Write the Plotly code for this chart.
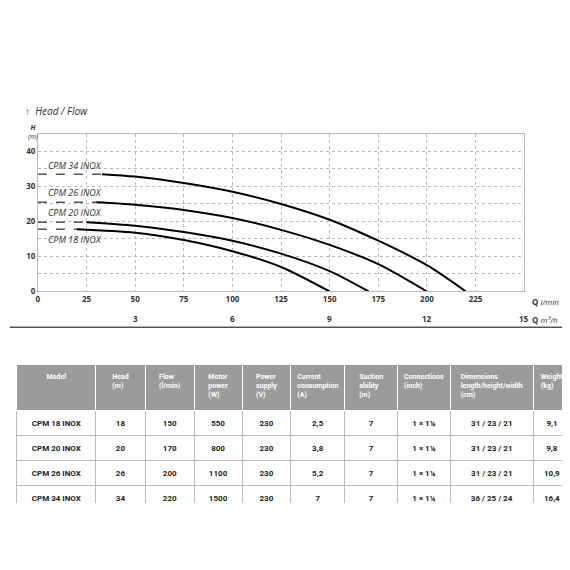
import plotly.graph_objects as go

# Kennlinien (Q in l/min, H in m)
q18 = [20, 50, 75, 100, 125, 150]
h18 = [17.8, 16.8, 14.7, 11.5, 7, 0]
q20 = [25, 50, 75, 100, 125, 150, 170]
h20 = [19.8, 18.8, 17, 14.5, 10.8, 5.8, 0]
q26 = [30, 50, 75, 100, 125, 150, 175, 200]
h26 = [25.5, 24.8, 23.3, 21, 17.6, 13.3, 7.8, 0]
q34 = [33, 50, 75, 100, 125, 150, 175, 200, 220]
h34 = [33.5, 32.8, 31, 28.5, 25, 20.5, 14.5, 7.5, 0]
curve_names = ["CPM 18 INOX", "CPM 20 INOX", "CPM 26 INOX", "CPM 34 INOX"]

x_ticks = [0, 25, 50, 75, 100, 125, 150, 175, 200, 225]
m3h_ticks = [3, 6, 9, 12, 15]

# Tabelle
header = ["Model", "Head<br>(m)", "Flow<br>(l/min)", "Motor<br>power<br>(W)", "Power<br>supply<br>(V)",
          "Current<br>consumption<br>(A)", "Suction<br>ability<br>(m)", "Connections<br>(inch)",
          "Dimensions<br>length/height/width<br>(cm)", "Weight<br>(kg)"]
models = ["CPM 18 INOX", "CPM 20 INOX", "CPM 26 INOX", "CPM 34 INOX"]
heads = ["18", "20", "26", "34"]
flows = ["150", "170", "200", "220"]
motor_power = ["550", "800", "1100", "1500"]
supply = ["230", "230", "230", "230"]
current = ["2,5", "3,8", "5,2", "7"]
suction = ["7", "7", "7", "7"]
connections = ["1 × 1¼"] * 4
dimensions = ["31 / 23 / 21", "31 / 23 / 21", "31 / 23 / 21", "36 / 25 / 24"]
weights = ["9,1", "9,8", "10,9", "16,4"]

fig = go.Figure()

for q, h, name in zip([q18, q20, q26, q34], [h18, h20, h26, h34], curve_names):
    fig.add_trace(go.Scatter(x=q, y=h, mode="lines",
                             line=dict(color="black", width=2, shape="spline", smoothing=0.8),
                             showlegend=False, hoverinfo="skip"))
    fig.add_trace(go.Scatter(x=[0, q[0]], y=[h[0], h[0]], mode="lines",
                             line=dict(color="black", width=1, dash="dash"), showlegend=False, hoverinfo="skip"))

# Beschriftungen der Kurven
label_pos = {"CPM 34 INOX": 36, "CPM 26 INOX": 28.3, "CPM 20 INOX": 22.5, "CPM 18 INOX": 14.8}
for name in curve_names:
    fig.add_annotation(x=4, y=label_pos[name], text=f"<i>{name}</i>", showarrow=False, xanchor="left",
                       font=dict(size=9, color="#333"))

fig.add_trace(go.Table(
    domain=dict(x=[7 / 570, 563 / 570], y=[1 - 500 / 570, 1 - 360 / 570]),
    columnwidth=[79, 50, 49, 48, 49, 54, 53, 53, 83, 38],
    header=dict(values=[f"<b>{h}</b>" for h in header], fill_color="#9b9b9b", line_color="white",
                font=dict(color="white", size=7, family="Roboto"), height=46, align="center"),
    cells=dict(values=[[f"<b>{v}</b>" for v in col] for col in
                       [models, heads, flows, motor_power, supply, current, suction, connections, dimensions, weights]],
               fill_color="white", line_color="#bbbbbb", height=22, align="center",
               font=dict(color="#222", size=8, family="Roboto")),
))

# Zweite Achse Q m³/h
for t in m3h_ticks:
    fig.add_annotation(x=t * 50 / 3, y=1 - 313 / 570, xref="x", yref="paper", text=f"<b>{t}</b>",
                       showarrow=False, font=dict(size=8, color="#333"))

fig.add_annotation(x=522 / 570, y=1 - 296 / 570, xref="paper", yref="paper", text="<b>Q</b> <i>l/min</i>  ➞",
                   showarrow=False, xanchor="left", font=dict(size=8, color="#333"))
fig.add_annotation(x=522 / 570, y=1 - 314 / 570, xref="paper", yref="paper", text="<b>Q</b> <i>m³/h</i>  ➞",
                   showarrow=False, xanchor="left", font=dict(size=8, color="#333"))
fig.add_annotation(x=13 / 570, y=1 - 95 / 570, xref="paper", yref="paper", text="↑  <i>Head / Flow</i>",
                   showarrow=False, xanchor="left", font=dict(size=10, color="#333"))
fig.add_annotation(x=16 / 570, y=1 - 114 / 570, xref="paper", yref="paper", text="<b><i>H</i></b><br><i>(m)</i>",
                   showarrow=False, font=dict(size=7, color="#333"))

fig.add_shape(type="line", xref="paper", yref="paper", x0=0, x1=1, y0=1 - 322 / 570, y1=1 - 322 / 570,
              line=dict(color="black", width=1))

fig.update_layout(
    width=570, height=570,
    margin=dict(l=0, r=0, t=0, b=0),
    paper_bgcolor="white", plot_bgcolor="white",
    font=dict(family="Open Sans"),
    xaxis=dict(domain=[28 / 570, 516 / 570], range=[0, 250], tickvals=x_ticks,
               ticktext=[f"<b>{v}</b>" for v in x_ticks], tickfont=dict(size=8, color="#333"),
               showgrid=True, gridcolor="#bbbbbb", griddash="dot", zeroline=False,
               showline=True, linecolor="#bbbbbb", mirror=True),
    yaxis=dict(domain=[1 - 286 / 570, 1 - 127 / 570], range=[0, 45], tickvals=[0, 5, 10, 15, 20, 25, 30, 35, 40, 45],
               ticktext=["<b>0</b>", "", "<b>10</b>", "", "<b>20</b>", "", "<b>30</b>", "", "<b>40</b>", ""],
               tickfont=dict(size=8, color="#333"), showgrid=True, gridcolor="#bbbbbb", griddash="dot",
               zeroline=False, showline=True, linecolor="#bbbbbb", mirror=True),
)

fig.write_html("out.html")
